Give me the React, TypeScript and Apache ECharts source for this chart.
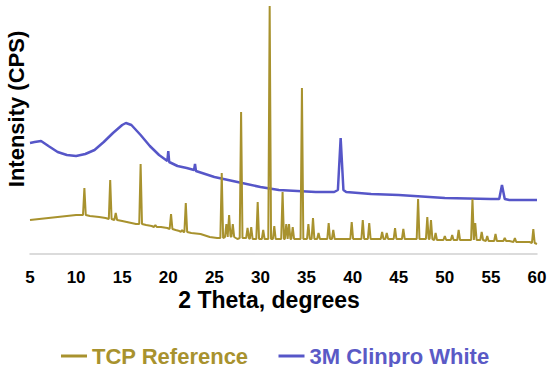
import React, { useEffect, useRef } from "react";
import * as echarts from "echarts";

const xTicks = [5, 10, 15, 20, 25, 30, 35, 40, 45, 50, 55, 60];

const tcpBaseline: [number, number][] = [
  [5, 34], [6, 35], [7, 36], [8, 37], [9, 38], [10, 39], [11.5, 38], [12.5, 37], [13.2, 36],
  [15, 33], [16, 31], [16.5, 30], [17.6, 29], [18.2, 28], [19.2, 27], [19.9, 26], [20.8, 24],
  [21.2, 23], [22.5, 21], [23.5, 20], [24.5, 17], [25.3, 16], [27.5, 15], [30.6, 15], [34, 15],
  [36.8, 15], [38.6, 15], [40.5, 15], [42.5, 15], [46.3, 15], [49.5, 14], [52.2, 14], [56, 13],
  [57, 13], [58.5, 12], [59.2, 12], [60, 10],
];

// [center 2θ, peak top, local base]
const tcpPeaks: [number, number, number][] = [
  [10.9, 66, 39], [13.7, 74, 35], [14.3, 41, 34], [17.0, 90, 30], [18.6, 29, 27], [20.3, 40, 25],
  [21.5, 24, 22], [21.9, 51, 22], [25.8, 81, 16], [26.3, 30, 17], [26.6, 39, 18], [27.0, 30, 17],
  [27.9, 142, 16], [28.6, 26, 16], [29.0, 27, 15], [29.7, 52, 15], [30.3, 24, 15], [31.0, 248, 15],
  [31.5, 28, 15], [32.4, 62, 15], [32.8, 30, 15], [33.1, 30, 15], [33.5, 27, 15], [34.5, 166, 15],
  [35.2, 30, 15], [35.7, 36, 15], [36.3, 21, 15], [37.4, 31, 15], [37.9, 24, 15], [39.9, 32, 15],
  [41.1, 34, 15], [41.8, 31, 15], [43.2, 22, 15], [43.7, 21, 15], [44.6, 26, 15], [45.5, 25, 15],
  [47.1, 55, 15], [48.1, 37, 15], [48.5, 34, 15], [49.0, 21, 14], [50.0, 18, 14], [50.8, 19, 14],
  [51.5, 24, 14], [53.0, 55, 14], [53.3, 31, 14], [54.0, 22, 14], [54.6, 18, 13], [55.5, 20, 13],
  [56.5, 16, 13], [57.6, 16, 12], [59.6, 25, 11],
];

const clinpro: [number, number][] = [
  [5, 111], [5.5, 112], [6.2, 113], [7, 108], [8, 102], [9, 99], [10, 98], [11, 100], [12, 104],
  [13, 112], [14, 121], [15, 129], [15.4, 131], [16, 129], [17, 119], [18, 108], [19, 99],
  [19.9, 93], [20.0, 103], [20.1, 92], [21, 88], [22, 86], [22.8, 84], [22.9, 90], [23.0, 83],
  [24, 80], [25, 77], [26, 75], [27, 73], [28, 71], [30, 67], [32, 64], [34, 63], [36, 62],
  [38, 62], [38.4, 64], [38.7, 116], [39.0, 64], [39.3, 62], [42, 60], [45, 59], [50, 56],
  [55, 55], [55.9, 55], [56.2, 69], [56.5, 55], [57, 54], [60, 54],
];

const TCP_COLOR = "#a8922e";
const BLUE_COLOR = "#5656c8";
const FONT = "Liberation Sans, Arial, sans-serif";

function buildTcp(): [number, number][] {
  const pts: [number, number][] = [...tcpBaseline];
  const hw = 0.15;
  for (const [c, top, base] of tcpPeaks) {
    pts.push([c - hw, base], [c, top], [c + hw, base]);
  }
  return pts.sort((a, b) => a[0] - b[0]);
}

export default function App() {
  const ref = useRef<HTMLDivElement>(null);
  useEffect(() => {
    if (!ref.current) return;
    const chart = echarts.init(ref.current, null, { renderer: "svg" });
    chart.setOption({
      animation: false,
      backgroundColor: "#ffffff",
      grid: { left: 30, right: 13, top: 4, bottom: 113 },
      xAxis: {
        type: "value",
        min: 5,
        max: 60,
        interval: 5,
        axisLine: { show: true, lineStyle: { color: "#d0d0d0", width: 1.5 } },
        axisTick: { show: false },
        splitLine: { show: false },
        axisLabel: {
          margin: 15,
          color: "#000",
          fontWeight: "bold",
          fontSize: 17,
          fontFamily: FONT,
          formatter: (v: number) => (xTicks.includes(v) ? String(v) : ""),
        },
      },
      yAxis: {
        type: "value",
        min: 0,
        max: 250,
        show: false,
      },
      legend: {
        top: 340,
        left: 56,
        icon: "rect",
        itemWidth: 26,
        itemHeight: 3,
        itemGap: 30,
        textStyle: { fontWeight: "bold", fontSize: 22, fontFamily: FONT },
        data: [
          { name: "TCP Reference", textStyle: { color: TCP_COLOR } },
          { name: "3M Clinpro White", textStyle: { color: "#5a5ac6" } },
        ],
      },
      graphic: [
        {
          type: "text",
          x: 16,
          y: 109,
          rotation: Math.PI / 2,
          style: {
            text: "Intensity (CPS)",
            fill: "#000",
            font: `bold 22px ${FONT}`,
            align: "center",
            verticalAlign: "middle",
          },
        },
        {
          type: "text",
          x: 269,
          y: 300,
          style: {
            text: "2 Theta, degrees",
            fill: "#000",
            font: `bold 23px ${FONT}`,
            align: "center",
            verticalAlign: "middle",
          },
        },
      ],
      series: [
        {
          name: "3M Clinpro White",
          type: "line",
          data: clinpro,
          showSymbol: false,
          symbol: "none",
          lineStyle: { color: BLUE_COLOR, width: 2.5 },
          itemStyle: { color: BLUE_COLOR },
        },
        {
          name: "TCP Reference",
          type: "line",
          data: buildTcp(),
          showSymbol: false,
          symbol: "none",
          lineStyle: { color: TCP_COLOR, width: 2 },
          itemStyle: { color: TCP_COLOR },
        },
      ],
    });
    return () => chart.dispose();
  }, []);
  return <div ref={ref} style={{ width: 550, height: 367, position: "absolute", left: 0, top: 0 }} />;
}
